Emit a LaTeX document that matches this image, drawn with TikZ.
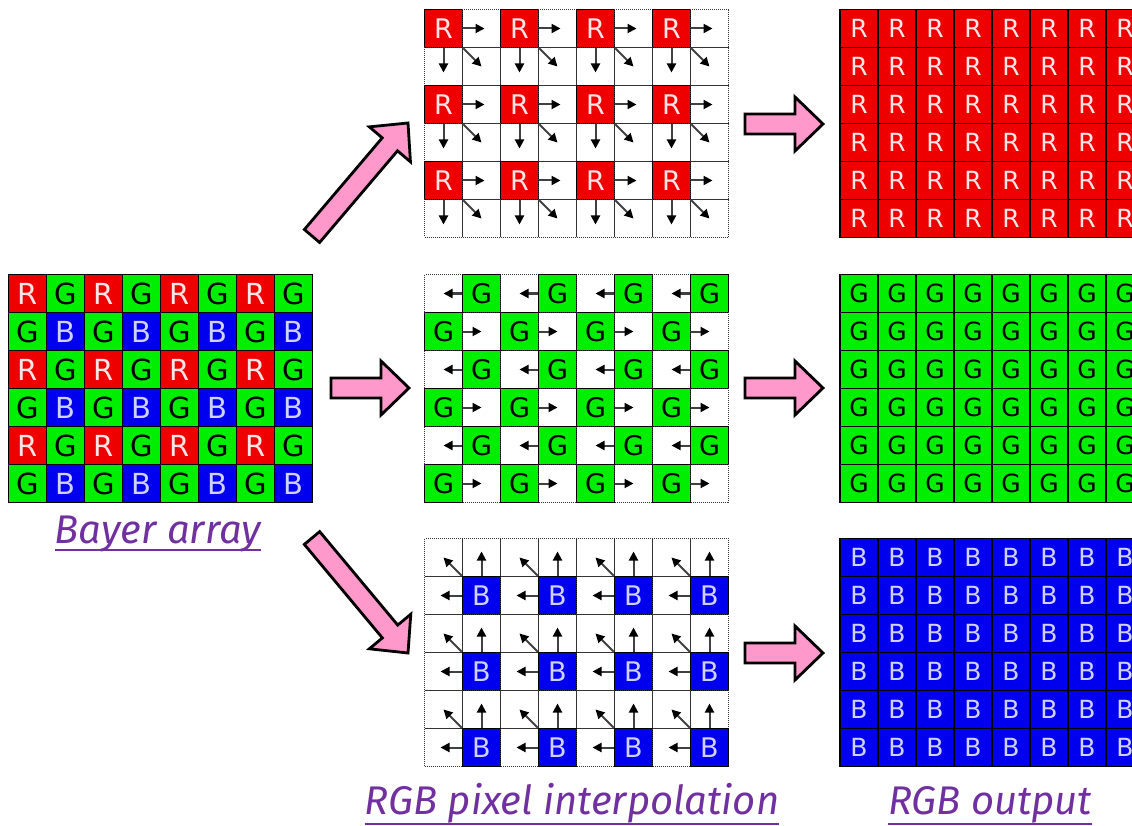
\documentclass[tikz,border=0pt]{standalone}
\usepackage{fontspec}
\newfontfamily\pixfont{DejaVu Sans}
\newfontfamily\captionfont{Fira Sans}
\usetikzlibrary{arrows.meta, calc, positioning}

\definecolor{pixred}{HTML}{EE0000}
\definecolor{pixgreen}{HTML}{00EE00}
\definecolor{pixblue}{HTML}{0000EE}
\definecolor{arrowpink}{HTML}{FF99CC}
\definecolor{captionpurple}{HTML}{7030A0}

% block arrow from tail (#1) to tip (#2)
\newcommand{\pinkarrow}[2]{%
  \coordinate (pa-h) at ($(#2)!28pt!(#1)$);
  \draw[blockarrow] ($(#1)!10pt!90:(#2)$) -- ($(pa-h)!10pt!-90:(#1)$) -- ($(pa-h)!27pt!-90:(#1)$)
    -- (#2) -- ($(pa-h)!27pt!90:(#1)$) -- ($(pa-h)!10pt!90:(#1)$) -- ($(#1)!10pt!-90:(#2)$) -- cycle;}

\begin{document}
\begin{tikzpicture}[
  x=1pt, y=-1pt,
  >={Triangle[length=9pt, width=9pt, color=black]},
  pix/.style={minimum size=38pt, inner sep=0pt, line width=1.6pt, draw=black},
  redpix/.style={pix, fill=pixred, text=white!90!red},
  greenpix/.style={pix, fill=pixgreen, text=black},
  bluepix/.style={pix, fill=pixblue, text=white!82!blue},
  emptypix/.style={minimum size=38pt, inner sep=0pt, draw=black!80, line width=1pt, densely dotted},
  bayerfont/.style={font=\pixfont\fontsize{29pt}{29pt}\selectfont},
  interpfont/.style={font=\pixfont\fontsize{27pt}{27pt}\selectfont},
  outfont/.style={font=\pixfont\fontsize{25pt}{25pt}\selectfont},
  interp/.style={->, line width=2pt, draw=black!75},
  blockarrow/.style={fill=arrowpink, draw=black, line width=2.8pt},
  caption/.style={inner sep=0pt, anchor=base, text=captionpurple, font=\captionfont\itshape\fontsize{40pt}{40pt}\selectfont},
  captionline/.style={draw=captionpurple, line width=2pt}
]
\clip (0,0) rectangle (1132,826);

% Bayer array
\foreach \r in {0,...,5} {
  \foreach \c in {0,...,7} {
    \pgfmathtruncatemacro\kind{2*mod(\r,2)+mod(\c,2)}
    \ifcase\kind \def\pixkind{redpix}\def\lt{R}\or \def\pixkind{greenpix}\def\lt{G}\or
      \def\pixkind{greenpix}\def\lt{G}\else \def\pixkind{bluepix}\def\lt{B}\fi
    \node[\pixkind, bayerfont] (bay-\r-\c) at ({27.5+38*\c}, {293.5+38*\r}) {\lt};
  }
}
\node[caption] (bayer-cap) at (158,543) {Bayer array};
\draw[captionline] ([yshift=-7pt]bayer-cap.base west) -- ([yshift=-7pt]bayer-cap.base east);

% Interpolation grids
\foreach \r in {0,...,5} {
  \foreach \c in {0,...,7} {
    \pgfmathtruncatemacro\isred{(mod(\r,2)==0)&&(mod(\c,2)==0)}
    \pgfmathtruncatemacro\isgreen{mod(\r+\c,2)==1}
    \pgfmathtruncatemacro\isblue{(mod(\r,2)==1)&&(mod(\c,2)==1)}
    \ifnum\isred=1 \def\pixkind{redpix}\def\lt{R}\else \def\pixkind{emptypix}\def\lt{}\fi
    \node[\pixkind, interpfont] (ri-\r-\c) at ({443.5+38*\c}, {28.5+38*\r}) {\lt};
    \ifnum\isgreen=1 \def\pixkind{greenpix}\def\lt{G}\else \def\pixkind{emptypix}\def\lt{}\fi
    \node[\pixkind, interpfont] (gi-\r-\c) at ({443.5+38*\c}, {293.5+38*\r}) {\lt};
    \ifnum\isblue=1 \def\pixkind{bluepix}\def\lt{B}\else \def\pixkind{emptypix}\def\lt{}\fi
    \node[\pixkind, interpfont] (bi-\r-\c) at ({443.5+38*\c}, {557.5+38*\r}) {\lt};
  }
}

% Red: right, down, diagonal
\foreach \r in {0,2,4} {
  \foreach \c in {0,2,4,6} {
    \pgfmathtruncatemacro\rn{\r+1}
    \pgfmathtruncatemacro\cn{\c+1}
    \draw[interp] (ri-\r-\c.east) -- ([xshift=3pt]ri-\r-\cn.center);
    \draw[interp] (ri-\r-\c.south) -- ([yshift=-6pt]ri-\rn-\c.center);
    \draw[interp] (ri-\r-\c.south east) -- (ri-\rn-\cn.center);
  }
}

% Green: left on even rows, right on odd rows
\foreach \r in {0,2,4} {
  \foreach \c in {1,3,5,7} {
    \pgfmathtruncatemacro\cn{\c-1}
    \draw[interp] (gi-\r-\c.west) -- (gi-\r-\cn.center);
  }
}
\foreach \r in {1,3,5} {
  \foreach \c in {0,2,4,6} {
    \pgfmathtruncatemacro\cn{\c+1}
    \draw[interp] (gi-\r-\c.east) -- (gi-\r-\cn.center);
  }
}

% Blue: up, left, diagonal
\foreach \r in {1,3,5} {
  \foreach \c in {1,3,5,7} {
    \pgfmathtruncatemacro\rn{\r-1}
    \pgfmathtruncatemacro\cn{\c-1}
    \draw[interp] (bi-\r-\c.north) -- ([yshift=6pt]bi-\rn-\c.center);
    \draw[interp] (bi-\r-\c.west) -- ([xshift=-3pt]bi-\r-\cn.center);
    \draw[interp] (bi-\r-\c.north west) -- (bi-\rn-\cn.center);
  }
}
\node[caption] (interp-cap) at (572,814) {RGB pixel interpolation};
\draw[captionline] ([yshift=-10pt]interp-cap.base west) -- ([yshift=-10pt]interp-cap.base east);

% RGB output
\foreach \r in {0,...,5} {
  \foreach \c in {0,...,7} {
    \node[redpix, outfont] (ro-\r-\c) at ({859+38*\c}, {28.5+38*\r}) {R};
    \node[greenpix, outfont] (go-\r-\c) at ({859+38*\c}, {293.5+38*\r}) {G};
    \node[bluepix, outfont] (bo-\r-\c) at ({859+38*\c}, {557.5+38*\r}) {B};
  }
}
\node[caption] (out-cap) at (990,814) {RGB output};
\draw[captionline] ([yshift=-10pt]out-cap.base west) -- ([yshift=-10pt]out-cap.base east);

% Block arrows
\coordinate (up-tail) at (312,236);
\coordinate (up-tip) at (408,123);
\coordinate (mid-tail) at (331,388);
\coordinate (mid-tip) at (409,388);
\coordinate (down-tail) at (312,538);
\coordinate (down-tip) at (408,653);
\pinkarrow{up-tail}{up-tip}
\pinkarrow{mid-tail}{mid-tip}
\pinkarrow{down-tail}{down-tip}
\foreach \y/\name in {124/red, 388/green, 653/blue} {
  \coordinate (\name-tail) at (745,\y);
  \coordinate (\name-tip) at (823,\y);
  \pinkarrow{\name-tail}{\name-tip}
}

\end{tikzpicture}
\end{document}
